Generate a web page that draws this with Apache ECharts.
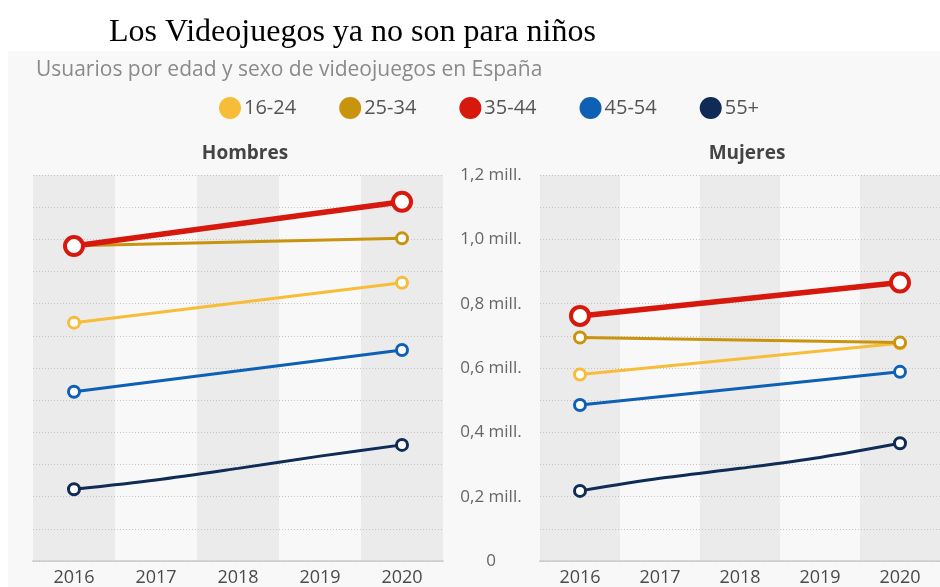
<!DOCTYPE html>
<html>
<head>
<meta charset="utf-8">
<script src="https://cdn.jsdelivr.net/npm/echarts@6/dist/echarts.min.js"></script>
<style>
html,body{margin:0;padding:0;background:#fff;}
#c{width:940px;height:587px;}
</style>
</head>
<body>
<div id="c"></div>
<script>
// ---- data ----
var years = ['2016', '2017', '2018', '2019', '2020'];
var groups = ['16-24', '25-34', '35-44', '45-54', '55+'];
var colors = ['#f7bd38', '#c9930e', '#d6190c', '#0d60b3', '#0f2b56'];
// Hombres (millones)
var hombres1624 = [0.741, null, null, null, 0.865];
var hombres2534 = [0.980, null, null, null, 1.003];
var hombres3544 = [0.979, null, null, null, 1.117];
var hombres4554 = [0.526, null, null, null, 0.656];
var hombres55 = [0.223, 0.252, 0.288, 0.326, 0.361];
// Mujeres (millones)
var mujeres1624 = [0.580, null, null, null, 0.677];
var mujeres2534 = [0.695, null, null, null, 0.679];
var mujeres3544 = [0.762, null, null, null, 0.866];
var mujeres4554 = [0.485, null, null, null, 0.588];
var mujeres55 = [0.218, 0.257, 0.288, 0.322, 0.366];
var yTickLabels = {0: '0', 2: '0,2 mill.', 4: '0,4 mill.', 6: '0,6 mill.', 8: '0,8 mill.', 10: '1,0 mill.', 12: '1,2 mill.'};

var hombres = [hombres1624, hombres2534, hombres3544, hombres4554, hombres55];
var mujeres = [mujeres1624, mujeres2534, mujeres3544, mujeres4554, mujeres55];

var FONT = '"Open Sans", "Noto Sans", sans-serif';

function makeX(gi) {
  return {
    type: 'category', gridIndex: gi, data: years, boundaryGap: true, z: 0,
    axisLine: {show: true, lineStyle: {color: '#d4d4d4', width: 2}},
    axisTick: {show: false},
    axisLabel: {color: '#4a4a4a', fontSize: 18, fontFamily: FONT, margin: 8},
    splitArea: {show: true, areaStyle: {color: ['#ebebeb', '#f8f8f8']}},
    splitLine: {show: false}
  };
}
function makeY(gi, showLabels) {
  return {
    type: 'value', gridIndex: gi, min: 0, max: 1.2, interval: 0.1, z: 1,
    axisLine: {show: false}, axisTick: {show: false},
    axisLabel: {
      show: showLabels, color: '#666', fontSize: 17, fontFamily: FONT,
      align: 'center', margin: 49,
      formatter: function (v) { var k = Math.round(v * 10); return yTickLabels[k] !== undefined ? yTickLabels[k] : ''; }
    },
    splitLine: {show: true, lineStyle: {color: '#c4c4c4', type: [1, 2], width: 1}}
  };
}

var series = [];
[hombres, mujeres].forEach(function (set, gi) {
  set.forEach(function (arr, i) {
    var big = groups[i] === '35-44';
    var sz = big ? 18 : 11;
    series.push({
      name: groups[i], type: 'line', xAxisIndex: gi, yAxisIndex: gi,
      data: arr, connectNulls: true,
      smooth: groups[i] === '55+' ? 0.3 : false,
      symbol: 'circle',
      symbolSize: function (v, p) { return (p.dataIndex === 0 || p.dataIndex === years.length - 1) ? sz : 0; },
      itemStyle: {color: '#ffffff', borderColor: colors[i], borderWidth: big ? 4 : 3},
      lineStyle: {color: colors[i], width: big ? 5.5 : 3},
      z: big ? 5 : 3,
      silent: true
    });
  });
});

var chart = echarts.init(document.getElementById('c'));
chart.setOption({
  animation: false,
  backgroundColor: '#ffffff',
  graphic: [
    {type: 'rect', shape: {x: 8, y: 51, width: 940, height: 540}, style: {fill: '#f8f8f8'}, z: -10}
  ],
  title: [
    {text: 'Los Videojuegos ya no son para niños', left: 104, top: 12,
      textStyle: {fontFamily: '"Liberation Serif", "Times New Roman", serif', fontWeight: 'normal', fontSize: 32, color: '#000'}},
    {text: 'Usuarios por edad y sexo de videojuegos en España', left: 31, top: 55,
      textStyle: {fontFamily: FONT, fontWeight: 'normal', fontSize: 21, color: '#8a8a8a'}},
    {text: 'Hombres', left: 240, top: 139, textAlign: 'center',
      textStyle: {fontFamily: FONT, fontWeight: 'bold', fontSize: 19, color: '#444'}},
    {text: 'Mujeres', left: 742, top: 139, textAlign: 'center',
      textStyle: {fontFamily: FONT, fontWeight: 'bold', fontSize: 19, color: '#444'}}
  ],
  legend: {
    left: 214, top: 92, icon: 'circle', itemWidth: 22, itemHeight: 22, itemGap: 43,
    selectedMode: false,
    textStyle: {fontFamily: FONT, fontSize: 20, color: '#555', padding: [0, 0, 0, -2]},
    data: groups.map(function (g, i) { return {name: g, itemStyle: {color: colors[i], borderWidth: 0}}; })
  },
  grid: [
    {left: 33, top: 175, width: 410, height: 386},
    {left: 540, top: 175, width: 410, height: 386}
  ],
  xAxis: [makeX(0), makeX(1)],
  yAxis: [makeY(0, false), makeY(1, true)],
  series: series
});
</script>
</body>
</html>
